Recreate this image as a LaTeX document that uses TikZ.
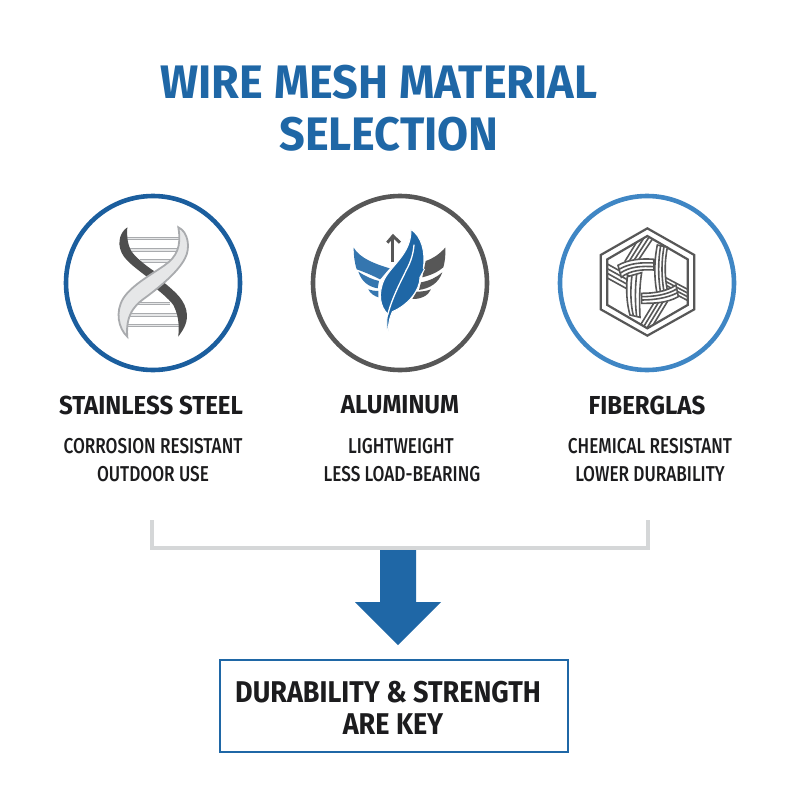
\documentclass[tikz,border=0pt]{standalone}
\usepackage{fontspec}
\setmainfont{Fira Sans}
\newfontfamily\medfont{Fira Sans Medium}
\definecolor{deepblue}{HTML}{1F67A6}
\definecolor{ringblue}{HTML}{1B5E9E}
\definecolor{ringgray}{HTML}{575757}
\definecolor{ringsky}{HTML}{3F86C4}
\definecolor{steelgray}{HTML}{A9ABAE}
\definecolor{steellight}{HTML}{E6E7E8}
\definecolor{bracketgray}{HTML}{D5D7D8}
\definecolor{inkblack}{HTML}{1C1C1E}
\tikzset{
  ring/.style={circle,line width=4.6pt,minimum size=174pt,inner sep=0pt},
  titletext/.style={text=deepblue,font=\fontsize{47}{47}\selectfont\bfseries,inner sep=0pt,xscale=.958},
  headtext/.style={text=inkblack,font=\fontsize{26}{26}\selectfont\bfseries,inner sep=0pt,xscale=.925},
  subtext/.style={text=inkblack,font=\fontsize{21.5}{21.5}\selectfont\medfont,inner sep=0pt,xscale=.8},
  keytext/.style={text=inkblack,font=\fontsize{30}{30}\selectfont\bfseries,inner sep=0pt,xscale=.9},
  zoomA/.style={shift={(60,190)},x=.3333pt,y=-.3333pt},
  zoomB/.style={shift={(305,190)},x=.3333pt,y=-.3333pt},
  zoomC/.style={shift={(550,190)},x=.3333pt,y=-.3333pt},
  weave/.style={ringgray,line width=1.6pt},
  weaveband/.style={fill=white,draw=ringgray,line width=1.6pt},
}
\begin{document}
\begin{tikzpicture}[x=1pt,y=-1pt]
\useasboundingbox (0,0) rectangle (800,800);
\fill[white] (0,0) rectangle (800,800);
% title
\node[titletext] (t1) at (379,82) {WIRE MESH MATERIAL};
\node[titletext] (t2) at (389,134) {SELECTION};
% rings
\node[ring,draw=ringblue] (r1) at (153,283) {};
\node[ring,draw=ringgray] (r2) at (400,283) {};
\node[ring,draw=ringsky] (r3) at (647,283) {};
% DNA
\begin{scope}[zoomA]
\foreach \y/\a/\b in {145/200/360,180/210/365,213/240/340,340/235/330,375/205/355,407/195/360}
  \draw[steelgray,line width=3.4pt] (\a,\y) -- (\b,\y);
\foreach \y/\a/\b in {145/200/360,180/210/365,213/240/340,340/235/330,375/205/355,407/195/360}
  \draw[steellight,line width=1.3pt] (\a,\y) -- (\b,\y);
\fill[ringgray!90!black] (202,112) .. controls (175,130) and (170,170) .. (192,200)
  .. controls (210,225) and (250,250) .. (285,280) -- (300,255)
  .. controls (260,230) and (230,205) .. (215,185) .. controls (203,165) and (200,140) .. (202,112) -- cycle;
\fill[ringgray!90!black] (355,440) .. controls (358,400) and (355,375) .. (340,345)
  .. controls (325,325) and (300,305) .. (275,285) -- (305,272)
  .. controls (345,305) and (378,330) .. (381,375) .. controls (382,405) and (365,425) .. (355,440) -- cycle;
\fill[steellight,draw=steelgray,line width=1.8pt] (355,112) .. controls (385,125) and (392,175) .. (375,205)
  .. controls (355,245) and (300,290) .. (260,320) .. controls (235,338) and (195,365) .. (202,440)
  .. controls (175,415) and (165,365) .. (190,325) .. controls (215,285) and (280,250) .. (315,225)
  .. controls (350,200) and (365,170) .. (355,112) -- cycle;
\end{scope}
% feather
\begin{scope}[zoomB]
\draw[ringgray,line width=3pt] (264,215) -- (264,138);
\draw[ringgray,line width=3pt,line join=miter] (247,158) -- (264,138) -- (285,158);
\fill[ringgray] (421,173) .. controls (400,195) and (385,205) .. (362,213) -- (352,262) .. controls (380,255) and (400,245) .. (415,232) .. controls (420,215) and (422,195) .. (421,173) -- cycle;
\fill[ringgray] (412,247) .. controls (395,262) and (375,272) .. (348,277) -- (342,300) .. controls (375,295) and (400,280) .. (412,247) -- cycle;
\fill[ringgray] (378,298) .. controls (365,303) and (350,305) .. (335,305) -- (322,327) .. controls (345,328) and (370,318) .. (378,298) -- cycle;
\fill[deepblue!90!white] (146,173) .. controls (165,205) and (210,222) .. (254,235) .. controls (240,250) and (232,262) .. (225,268)
  .. controls (200,255) and (175,245) .. (155,238) .. controls (148,215) and (146,195) .. (146,173) -- cycle;
\fill[deepblue!90!white] (160,245) .. controls (180,258) and (200,268) .. (222,273) -- (218,295) .. controls (190,290) and (170,275) .. (160,245) -- cycle;
\fill[deepblue!90!white] (190,298) .. controls (200,302) and (210,303) .. (220,303) -- (220,322) .. controls (208,318) and (195,310) .. (190,298) -- cycle;
\fill[deepblue,draw=white,line width=1pt] (318,118) .. controls (350,140) and (362,185) .. (355,235) -- (358,238) -- (345,262) .. controls (345,300) and (310,345) .. (262,365)
  .. controls (252,385) and (250,410) .. (248,436) .. controls (244,410) and (245,385) .. (248,372)
  .. controls (225,350) and (218,310) .. (238,268) .. controls (260,225) and (320,190) .. (318,118) -- cycle;
\draw[white,line width=1.3pt,line cap=round] (248,375) .. controls (262,320) and (290,270) .. (304,240) .. controls (318,215) and (325,190) .. (327,165);
\end{scope}
% fiberglass
\begin{scope}[zoomC]
\draw[ringgray,line width=2.2pt,line join=miter] (292,115) -- (433,195) -- (433,358) -- (292,437) -- (152,358) -- (152,195) -- cycle;
\draw[ringgray,line width=2.2pt,line join=miter] (292,138) -- (413,208) -- (413,345) -- (292,415) -- (172,345) -- (172,208) -- cycle;
\begin{scope}
\clip (292,138) -- (413,208) -- (413,345) -- (292,415) -- (172,345) -- (172,208) -- cycle;
\foreach \d in {0,14,28,42}{
  \draw[weave] (172,{222+\d}) -- (250,{265+\d});
  \draw[weave] (345,{262+\d*.8}) -- (413,{298+\d*.8});
  \draw[weave] ({312-\d},140) -- ({262-\d*.9},215);
  \draw[weave] ({352-\d*.9},335) -- ({305-\d*.9},412);
}
\end{scope}
\fill[weaveband] (204,226) .. controls (235,208) and (275,205) .. (312,208) -- (312,240) .. controls (280,238) and (240,240) .. (214,262) -- cycle;
\draw[weave] (207,238) .. controls (240,219) and (275,217) .. (312,219);
\draw[weave] (210,250) .. controls (240,229) and (275,228) .. (312,230);
\fill[weaveband] (322,165) -- (352,172) .. controls (345,210) and (342,250) .. (352,300) -- (322,315) .. controls (312,265) and (312,215) .. (322,165) -- cycle;
\draw[weave] (332,167) .. controls (324,215) and (324,260) .. (332,310);
\draw[weave] (342,170) .. controls (334,215) and (334,260) .. (342,305);
\fill[weaveband] (275,310) .. controls (310,310) and (350,305) .. (378,285) -- (385,320) .. controls (350,340) and (310,340) .. (275,340) -- cycle;
\draw[weave] (275,320) .. controls (310,320) and (350,315) .. (380,297);
\draw[weave] (275,330) .. controls (310,330) and (350,325) .. (383,308);
\fill[weaveband] (232,260) -- (275,248) .. controls (268,290) and (268,340) .. (270,382) -- (240,375) .. controls (230,340) and (228,300) .. (232,260) -- cycle;
\draw[weave] (246,256) .. controls (241,295) and (241,340) .. (250,377);
\draw[weave] (260,252) .. controls (255,295) and (255,340) .. (260,380);
\end{scope}
% labels
\node[headtext] (h1) at (151,405) {STAINLESS STEEL};
\node[headtext] (h2) at (400,405) {ALUMINUM};
\node[headtext] (h3) at (647,405) {FIBERGLAS};
\node[subtext] (s1a) at (153,446) {CORROSION RESISTANT};
\node[subtext] (s1b) at (153,474) {OUTDOOR USE};
\node[subtext] (s2a) at (401,446) {LIGHTWEIGHT};
\node[subtext] (s2b) at (402,474) {LESS LOAD-BEARING};
\node[subtext] (s3a) at (650,446) {CHEMICAL RESISTANT};
\node[subtext] (s3b) at (650,474) {LOWER DURABILITY};
% bracket
\coordinate (bl) at (152,520);
\coordinate (bm) at (398,548);
\coordinate (br) at (648,520);
\draw[bracketgray,line width=4pt,line join=miter] (bl) |- (bm) -| (br);
% arrow
\fill[deepblue] (380,550) -- (416,550) -- (416,602) -- (441,602) -- (398,645) -- (355,602) -- (380,602) -- cycle;
% key box
\node[draw=deepblue,line width=2.2pt,fill=white,minimum width=348pt,minimum height=92pt,inner sep=0pt] (key) at (394,706) {};
\node[keytext] (k1) at (388,692) {DURABILITY \& STRENGTH};
\node[keytext] (k2) at (393,724) {ARE KEY};
\end{tikzpicture}
\end{document}
